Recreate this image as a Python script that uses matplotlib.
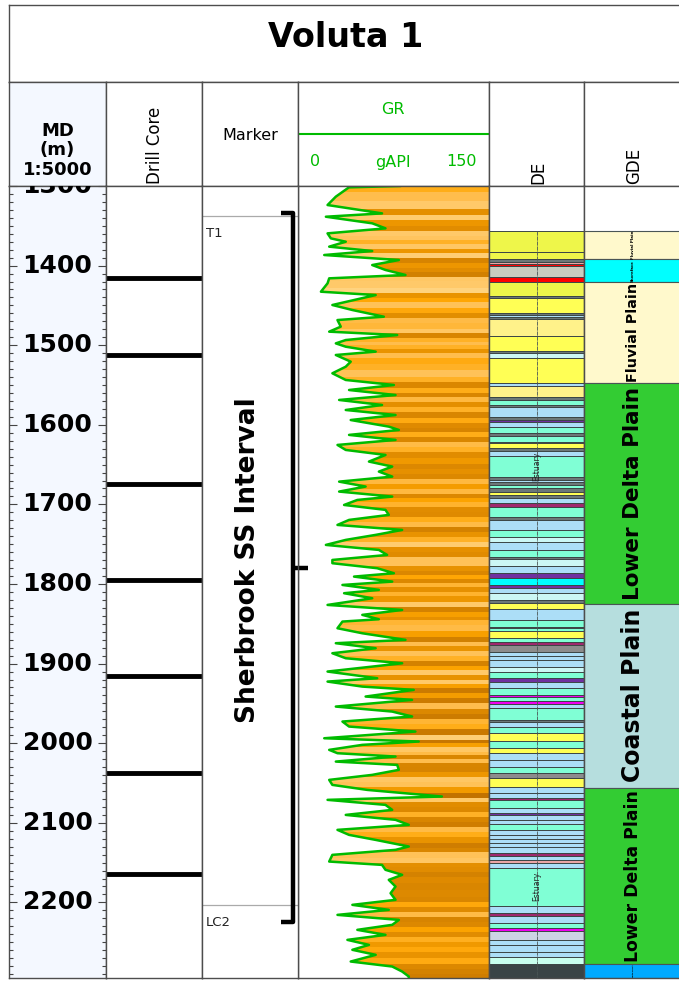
import numpy as np
import matplotlib.pyplot as plt
from matplotlib.colors import LinearSegmentedColormap, Normalize
from matplotlib.ticker import MultipleLocator

W, H = 679, 982
top_d, base_d = 1300, 2295

# GR log (m, gAPI)
gr_depth = [1300.0, 1301.7, 1313.4, 1323.9, 1334.4, 1338.6, 1346.9, 1353.2, 1359.5, 1365.8,
            1370.0, 1376.2, 1381.7, 1386.7, 1393.0, 1399.3, 1405.5, 1411.8, 1416.0, 1422.3,
            1432.8, 1437.0, 1443.2, 1449.5, 1455.8, 1464.2, 1468.4, 1476.7, 1483.0, 1487.2,
            1493.5, 1497.7, 1501.9, 1508.1, 1512.3, 1520.7, 1527.0, 1535.3, 1543.7, 1550.0,
            1556.3, 1562.6, 1568.8, 1575.1, 1581.4, 1587.7, 1594.0, 1602.3,
            1606.5, 1612.7, 1619.0, 1625.3, 1631.6, 1637.9, 1646.2, 1652.5, 1658.8, 1665.1,
            1671.4, 1677.6, 1683.9, 1690.2, 1694.4, 1700.7, 1706.9, 1713.2, 1719.5, 1725.8,
            1732.1, 1738.3, 1744.6, 1750.9, 1757.2, 1763.5, 1769.8, 1773.9, 1780.2, 1786.5,
            1790.7, 1797.0, 1801.2, 1807.4, 1811.6, 1817.9, 1826.3, 1832.6, 1838.8, 1844.3,
            1847.2, 1855.6, 1861.9, 1870.2, 1874.4, 1880.7, 1887.0, 1893.3, 1899.6, 1905.8,
            1910.0, 1918.4, 1922.6, 1928.9, 1933.0, 1941.4, 1945.6, 1954.0, 1960.3, 1966.5,
            1972.8, 1979.1, 1985.4, 1993.8, 1997.9, 2002.1, 2008.4, 2012.6, 2016.8, 2023.1,
            2027.3, 2033.5, 2039.8, 2046.1, 2052.4, 2058.7, 2067.0, 2071.2, 2077.5, 2083.8,
            2090.1, 2096.3, 2102.6, 2108.9, 2115.2, 2121.5, 2129.8,
            2134.0, 2140.3, 2148.7, 2152.9, 2159.1, 2165.4, 2171.7, 2180.1, 2188.5, 2196.8,
            2203.1, 2209.4, 2215.7, 2222.0, 2228.2, 2234.5, 2240.8, 2247.1, 2253.4, 2259.6,
            2265.9, 2274.3, 2280.6, 2286.9, 2293.1, 2295.0]
gr_value = [80, 40, 29.7, 23.2, 66, 21.9, 58.3, 68.7, 23.2, 25.8,
            37.5, 24.5, 58.3, 20.6, 79.2, 58.3, 68.7, 84.4, 24.5, 23.2,
            18, 61, 44, 27, 42.7, 67.4, 31, 33.6, 24.5, 77.9,
            37.5, 29.7, 37.5, 61, 29.7, 41.4, 37.5, 27, 37.5, 75.3,
            40.1, 76.6, 32.3, 66, 37.5, 76.6, 41.4, 71.3,
            79.2, 40.1, 76.6, 31, 37.5, 68.7, 55.7, 74, 63.5, 74,
            32.3, 53.1, 32.3, 74, 46.6, 36.2, 68.7, 71.3, 40.1, 31,
            81.8, 61, 37.5, 21.9, 63.5, 70, 27, 27, 62.2, 75.3,
            44, 74, 34.9, 63.5, 36.2, 58.3, 23.2, 81.8, 50.5, 63.5,
            34.9, 31, 50.5, 84.4, 29.7, 61, 27, 37.5, 81.8, 46.6,
            23.2, 62.2, 23.2, 50.5, 90.9, 53.1, 89.6, 29.7, 74, 89.6,
            34.9, 40.1, 92.2, 20.6, 94.8, 50.5, 24.5, 31, 76.6, 29.7,
            77.9, 79.2, 58.3, 24.5, 27, 54.4, 113, 23.2, 68.7, 74,
            37.5, 76.6, 87, 31, 40.1, 61, 87,
            76.6, 27, 24.5, 66, 68.7, 81.8, 71.3, 76.6, 72.7, 76.6,
            42.7, 71.3, 31, 79.2, 74, 46.6, 68.7, 38.8, 55.7, 42.7,
            61, 41.4, 74, 81.8, 87, 87]

core_depth = [1415.6, 1512.3, 1674.3, 1794.9, 1915.4, 2037.3, 2164.1]

marker_name = ['T1', 'LC2']
marker_depth = [1337.7, 2203.0]
interval_name = 'Sherbrook SS Interval'
interval_top, interval_mid, interval_base = 1333.9, 1779.9, 2224.6

# depositional environment column
de_top = [1356.5, 1382.9, 1391.7, 1395.5, 1398.0, 1400.0, 1414.3, 1420.6, 1438.2, 1440.7,
          1459.5, 1462.1, 1464.5, 1467.1, 1488.4, 1507.3, 1509.8, 1516.1, 1547.5, 1551.3,
          1565.1, 1568.8, 1575.1, 1577.6, 1590.2, 1594.0, 1596.5, 1602.8, 1610.3, 1614.1,
          1621.6, 1622.9, 1629.2, 1632.9, 1639.2, 1665.6, 1669.0, 1672.0, 1676.0, 1679.0,
          1684.4, 1688.2, 1692.0, 1698.3, 1703.3, 1715.9, 1719.6, 1732.2, 1741.0, 1747.2,
          1757.3, 1766.1, 1768.6, 1777.4, 1786.2, 1792.5, 1801.3, 1805.0, 1811.3, 1820.1,
          1823.9, 1831.4, 1845.2, 1854.0, 1855.3, 1859.0, 1867.8, 1872.9, 1876.6, 1885.4,
          1891.0, 1896.0, 1904.3, 1910.0, 1918.1, 1923.1, 1930.7, 1939.5, 1942.0, 1947.0,
          1950.8, 1955.8, 1970.9, 1973.4, 1979.7, 1987.2, 1997.3, 2006.1, 2012.3, 2021.1,
          2029.9, 2037.5, 2043.8, 2055.1, 2062.6, 2069.0, 2071.4, 2081.5, 2087.7, 2090.3,
          2096.5, 2101.6, 2109.1, 2115.3, 2121.0, 2126.0, 2131.0, 2137.9, 2141.7, 2146.7,
          2150.5, 2156.8, 2204.5, 2213.3, 2217.1, 2225.9, 2232.2, 2235.9, 2247.2, 2253.5,
          2262.3, 2268.6, 2277.4]
de_facies = ['lime', 'lime', 'slate', 'pink', 'red', 'gray', 'red', 'lime', 'slate', 'yellow',
             'slate', 'ltblue', 'slate', 'ltyellow', 'yellow', 'slate', 'palecyan', 'yellow', 'ltblue', 'ltyellow',
             'slate', 'aqua', 'slate', 'ltblue', 'slate', 'purple', 'ltblue', 'aqua', 'slate', 'aqua',
             'slate', 'yellow', 'slate', 'ltblue', 'aqua', 'slate', 'ltblue', 'slate', 'aqua', 'slate',
             'yellow', 'slate', 'ltblue', 'plum', 'aqua', 'slate', 'ltblue', 'aqua', 'palecyan', 'ltblue',
             'aqua', 'slate', 'palecyan', 'ltblue', 'purple', 'cyan', 'purple', 'ltblue', 'palecyan', 'slate',
             'yellow', 'ltblue', 'aqua', 'plum', 'aqua', 'yellow', 'aqua', 'plum', 'gray2', 'ltblue',
             'ltblue', 'ltblue', 'palecyan', 'aqua', 'purple', 'ltblue', 'aqua', 'magenta', 'aqua', 'magenta',
             'ltblue', 'aqua', 'slate', 'ltblue', 'aqua', 'yellow', 'aqua', 'yellow', 'ltblue', 'ltblue',
             'aqua', 'gray2', 'yellow', 'ltblue', 'ltblue', 'plum', 'aqua', 'ltblue', 'purple', 'ltblue',
             'ltblue', 'aqua', 'ltblue', 'ltblue', 'ltblue', 'ltblue', 'ltblue', 'plum', 'ltblue', 'pink',
             'ltblue', 'aqua', 'ltblue', 'plum', 'ltblue', 'aqua', 'magenta', 'lavender', 'ltblue', 'ltblue',
             'ltblue', 'paleaqua', 'dark']
de_labels = ['Estuary', 'Estuary']
de_label_depth = [1652.0, 2180.0]

facies_color = {'lime': '#EEF64A', 'yellow': '#FFFF55', 'ltyellow': '#FFF28A', 'gray': '#C8CCC0',
                'red': '#FF0000', 'pink': '#EBA5A5', 'ltblue': '#ACDEF7', 'aqua': '#80FFD5',
                'palecyan': '#CCF7F5', 'slate': '#6C7878', 'gray2': '#8C8C8C', 'plum': '#A0286E',
                'purple': '#7030A0', 'magenta': '#F000F0', 'cyan': '#00FFFF', 'lavender': '#CCD4E4',
                'paleaqua': '#C8FFEE', 'dark': '#3A4446'}

# grouped depositional environment
gde_top = [1356.5, 1392.0, 1420.6, 1547.8, 1825.0, 2055.7, 2277.2]
gde_base = [1392.0, 1420.6, 1547.8, 1825.0, 2055.7, 2277.2, 2295.0]
gde_name = ['Fluvial Plain', 'Shoreface', 'Fluvial Plain', 'Lower Delta Plain',
            'Coastal Plain', 'Lower Delta Plain', 'Delta Front']
gde_color = ['#FFF9CC', '#00FFFF', '#FFF9CC', '#33CC33', '#B6DEDE', '#33CC33', '#00AAFF']

edge = '#4d4d4d'
green = '#00BB00'

fig = plt.figure(figsize=(W / 100, H / 100), dpi=100)


def box(x0, y0, x1, y1):
    return fig.add_axes([x0 / W, 1 - y1 / H, (x1 - x0) / W, (y1 - y0) / H])


def frame(ax, fc='white'):
    ax.set_facecolor(fc)
    ax.set_xticks([])
    ax.set_yticks([])
    for s in ax.spines.values():
        s.set_color(edge)
        s.set_linewidth(1.0)


tracks = [(9, 106), (106, 202), (202, 298), (298, 489), (489, 584), (584, 682)]

# title
ax_t = box(9, 5, 682, 82)
frame(ax_t)
ax_t.text(0.5, 0.58, 'Voluta 1', ha='center', va='center', fontsize=24, fontweight='bold')

# headers
hd = [box(x0, 82, x1, 186) for x0, x1 in tracks]
for i, a in enumerate(hd):
    frame(a, '#F4F8FF' if i == 0 else 'white')
    a.set_xlim(0, 1)
    a.set_ylim(0, 1)


def fy(y):
    return (186 - y) / 104


hd[0].text(0.5, fy(131), 'MD', ha='center', va='center', fontsize=13, fontweight='bold')
hd[0].text(0.5, fy(150), '(m)', ha='center', va='center', fontsize=13, fontweight='bold')
hd[0].text(0.5, fy(170), '1:5000', ha='center', va='center', fontsize=13, fontweight='bold')
hd[1].text(0.51, fy(183.5), 'Drill Core', rotation=90, ha='center', va='bottom', fontsize=12)
hd[2].text(0.5, fy(136), 'Marker', ha='center', va='center', fontsize=11.5)
hd[3].text(0.497, fy(110), 'GR', ha='center', va='center', fontsize=11.5, color=green)
hd[3].plot([0, 1], [fy(134)] * 2, color=green, lw=1.5)
hd[3].text(0.089, fy(162), '0', ha='center', va='center', fontsize=11.5, color=green)
hd[3].text(0.497, fy(162), 'gAPI', ha='center', va='center', fontsize=11.5, color=green)
hd[3].text(0.856, fy(162), '150', ha='center', va='center', fontsize=11.5, color=green)
hd[4].text(0.516, fy(184), 'DE', rotation=90, ha='center', va='bottom', fontsize=12)
hd[5].text(0.51, fy(184), 'GDE', rotation=90, ha='center', va='bottom', fontsize=12)

# data tracks
ax_md, ax_dc, ax_mk, ax_gr, ax_de, ax_gde = [box(x0, 186, x1, 978) for x0, x1 in tracks]
for i, a in enumerate([ax_md, ax_dc, ax_mk, ax_gr, ax_de, ax_gde]):
    frame(a, '#F4F8FF' if i == 0 else 'white')
    a.set_ylim(base_d, top_d)
    a.set_xlim(0, 1)

# depth track
ax_md.set_yticks(range(1300, 2300, 100))
ax_md.yaxis.set_minor_locator(MultipleLocator(10))
ax_md.tick_params(axis='y', which='both', direction='in', left=True, right=True,
                  labelleft=False, color='#444444', width=0.8)
ax_md.tick_params(axis='y', which='major', length=5.5)
ax_md.tick_params(axis='y', which='minor', length=3)
for d in range(1300, 2300, 100):
    ax_md.text(0.5, d, str(d), ha='center', va='center', fontsize=18, fontweight='bold',
               clip_on=True)

# drill core
ax_dc.hlines(core_depth, 0, 1, color='black', lw=3.5)

# markers
ax_mk.hlines(marker_depth, 0, 1, color='#aaaaaa', lw=0.9)
for name, d in zip(marker_name, marker_depth):
    ax_mk.annotate(name, (0.04, d), xytext=(0, -8), textcoords='offset points',
                   ha='left', va='top', fontsize=9.5, color='#222222')
ax_mk.plot([0.82, 0.948, 0.948, 0.82], [interval_top, interval_top, interval_base, interval_base],
           color='black', lw=3.2, solid_joinstyle='round', solid_capstyle='butt', clip_on=False)
ax_mk.plot([0.948, 1.1], [interval_mid, interval_mid], color='black', lw=3.2,
           solid_capstyle='butt', clip_on=False)
ax_mk.text(0.474, 1769.9, interval_name, rotation=90, ha='center', va='center',
           fontsize=19, fontweight='bold')
ax_mk.set_zorder(5)

# GR track
ax_gr.set_xlim(0, 150)
cmap = LinearSegmentedColormap.from_list('gr', [(0, '#FFD88C'), (0.18, '#FFBC4A'), (0.35, '#FFA500'),
                                                (0.55, '#E89200'), (0.8, '#D38100'), (1, '#C27200')])
dep = np.array(gr_depth)
edges = np.concatenate([[dep[0]], (dep[1:] + dep[:-1]) / 2, [dep[-1]]])
mesh = ax_gr.pcolormesh([0, 150], edges, np.array(gr_value)[:, None], cmap=cmap,
                        norm=Normalize(15, 100), shading='flat')
poly = ax_gr.fill_betweenx(gr_depth, gr_value, 150, facecolor='none', edgecolor='none')
mesh.set_clip_path(poly.get_paths()[0], ax_gr.transData)
ax_gr.plot(gr_value, gr_depth, color=green, lw=1.8)

# DE track
de_base = de_top[1:] + [base_d]
for t, b, f in zip(de_top, de_base, de_facies):
    ax_de.barh(t, 1, height=b - t, left=0, align='edge', color=facies_color[f],
               edgecolor='#3c4646', linewidth=0.7)
ax_de.vlines(0.5, de_top[0], base_d, color='#4a5555', lw=0.6, linestyles=(0, (5, 1)))
for name, d in zip(de_labels, de_label_depth):
    ax_de.text(0.5, d, name, rotation=90, ha='center', va='center', fontsize=5.5, color='#222222')

# GDE track
gde_txt = []
for t, b, n, c in zip(gde_top, gde_base, gde_name, gde_color):
    ax_gde.barh(t, 1, height=b - t, left=0, align='edge', color=c, edgecolor='#4a5555', linewidth=0.8)
    tx = ax_gde.text(0.5, (t + b) / 2, n, rotation=90, ha='center', va='center',
                     fontsize=10, fontweight='bold', clip_on=True)
    gde_txt.append((tx, b - t))

fig.canvas.draw()
px_per_m = 792 / (base_d - top_d)
for tx, h in gde_txt:
    ext = tx.get_window_extent()
    target = h * px_per_m * 0.97
    tx.set_fontsize(min(10 * target / ext.height, 17))

fig.savefig('out.png', dpi=100)
